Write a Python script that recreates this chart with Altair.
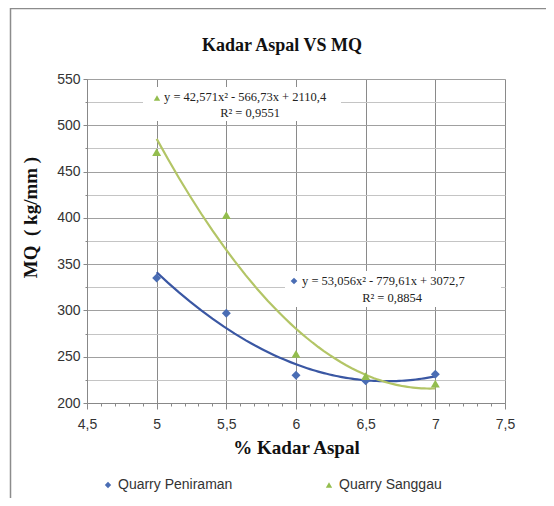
import altair as alt
import pandas as pd

# ---- data ----
kadar_aspal = [5, 5.5, 6, 6.5, 7]
mq_peniraman = [335, 297, 230, 224, 231]
mq_sanggau = [471, 403, 253, 229, 221]
series_names = ["Quarry Peniraman", "Quarry Sanggau"]

x_tick_values = [4.5, 4.6, 4.7, 4.8, 4.9, 5.0, 5.1, 5.2, 5.3, 5.4, 5.5, 5.6, 5.7, 5.8,
                 5.9, 6.0, 6.1, 6.2, 6.3, 6.4, 6.5, 6.6, 6.7, 6.8, 6.9, 7.0, 7.1, 7.2,
                 7.3, 7.4, 7.5]
y_tick_values = [200, 225, 250, 275, 300, 325, 350, 375, 400, 425, 450, 475, 500, 525, 550]

eq_sanggau = ["y = 42,571x² - 566,73x + 2110,4", "R² = 0,9551"]
eq_peniraman = ["y = 53,056x² - 779,61x + 3072,7", "R² = 0,8854"]

point_colors = ["#4a6db4", "#93bd4e"]
line_colors = ["#3a57a3", "#b3c566"]
shapes = ["diamond", "triangle-up"]

df = pd.DataFrame({
    "x": kadar_aspal + kadar_aspal,
    "y": mq_peniraman + mq_sanggau,
    "series": [series_names[0]] * len(kadar_aspal) + [series_names[1]] * len(kadar_aspal),
})

W, H = 418, 324

major_x = "abs(datum.value*2 - round(datum.value*2)) < 0.001"
x_axis = alt.Axis(
    values=x_tick_values,
    labelExpr=f"{major_x} ? replace(format(datum.value, '.1~f'), '.', ',') : ''",
    title="% Kadar Aspal",
    titleFont="Liberation Serif", titleFontSize=19, titleFontWeight="bold", titleColor="#111",
    titlePadding=7,
    labelFont="Liberation Sans", labelFontSize=14, labelColor="#333", labelPadding=8,
    labelFlush=False, labelOverlap=False,
    domainColor="#888", tickColor="#888",
    tickSize={"condition": {"test": major_x, "value": 6}, "value": 3},
    grid=True, gridColor="#8a8a8a",
    gridOpacity={"condition": {"test": major_x, "value": 1}, "value": 0},
)

major_y = "datum.value % 50 === 0"
y_axis = alt.Axis(
    values=y_tick_values,
    labelExpr=f"{major_y} ? datum.label : ''",
    title="MQ\u00a0\u00a0(\u00a0kg/mm\u00a0)",
    titleFont="Liberation Serif", titleFontSize=19, titleFontWeight="bold", titleColor="#111",
    titleX=-57, titleY=138, titleBaseline="middle",
    labelFont="Liberation Sans", labelFontSize=14, labelColor="#333", labelPadding=3,
    labelOverlap=False,
    domainColor="#888", tickColor="#888",
    tickSize={"condition": {"test": major_y, "value": 4}, "value": 2},
    grid=True,
    gridColor={"condition": {"test": major_y, "value": "#a0a0a0"}, "value": "#c4c4c4"},
)

base = alt.Chart(df).encode(
    x=alt.X("x:Q", scale=alt.Scale(domain=[4.5, 7.5], nice=False, zero=False), axis=x_axis),
    y=alt.Y("y:Q", scale=alt.Scale(domain=[200, 550], nice=False, zero=False), axis=y_axis),
)

one = pd.DataFrame({"a": [0]})

frame = alt.Chart(one).mark_rect(fillOpacity=0, stroke="#8c8c8c", strokeWidth=1.5).encode(
    x=alt.value(-76.5), x2=alt.value(520), y=alt.value(-70.5), y2=alt.value(500)
)

label_bg = alt.Chart(pd.DataFrame({"x0": [56, 198], "x1": [254, 414], "y0": [8, 192], "y1": [42, 228]})).mark_rect(
    fill="white"
).encode(
    x=alt.X("x0:Q", scale=None), x2="x1:Q", y=alt.Y("y0:Q", scale=None), y2="y1:Q"
)

lines = []
for name, col in zip(series_names, line_colors):
    lines.append(
        base.transform_filter(alt.datum.series == name)
        .transform_regression("x", "y", method="poly", order=2, extent=[5, 7])
        .mark_line(color=col, strokeWidth=2.2)
    )

points = base.mark_point(filled=True, size=80, opacity=1).encode(
    color=alt.Color("series:N", scale=alt.Scale(domain=series_names, range=point_colors),
                    legend=alt.Legend(
                        title=None, orient="none", legendX=14, legendY=399,
                        direction="horizontal", columnPadding=89,
                        labelFont="Liberation Sans", labelFontSize=14, labelColor="#333",
                        symbolSize=40, symbolOffset=0, labelOffset=3)),
    shape=alt.Shape("series:N", scale=alt.Scale(domain=series_names, range=shapes)),
)

def txt(s, x, y, align):
    return alt.Chart(one).mark_text(
        text=s, font="Liberation Serif", fontSize=12.5, color="#222", align=align, baseline="middle"
    ).encode(x=alt.value(x), y=alt.value(y))

texts = [
    txt(eq_sanggau[0], 77, 18, "left"),
    txt(eq_sanggau[1], 163, 34, "center"),
    txt(eq_peniraman[0], 215, 202, "left"),
    txt(eq_peniraman[1], 305, 219, "center"),
]

sym_green = alt.Chart(one).mark_point(shape="triangle-up", filled=True, size=40, color=point_colors[1], opacity=1).encode(
    x=alt.value(70), y=alt.value(19))
sym_blue = alt.Chart(one).mark_point(shape="diamond", filled=True, size=45, color=point_colors[0], opacity=1).encode(
    x=alt.value(207), y=alt.value(202))

chart = alt.layer(
    frame, label_bg, *lines, points, *texts, sym_green, sym_blue
).properties(
    width=W, height=H,
    title=alt.Title("Kadar Aspal VS MQ", font="Liberation Serif", fontSize=18, fontWeight="bold",
                    color="#111", frame="group", anchor="middle", dx=-14, offset=-47),
    autosize=alt.AutoSizeParams(type="none"),
    padding={"left": 79, "top": 71, "right": 41, "bottom": 95},
).configure_view(stroke="#999", strokeWidth=1).configure(background="white")

chart.save("out.html", embed_options={"renderer": "svg", "actions": False})
